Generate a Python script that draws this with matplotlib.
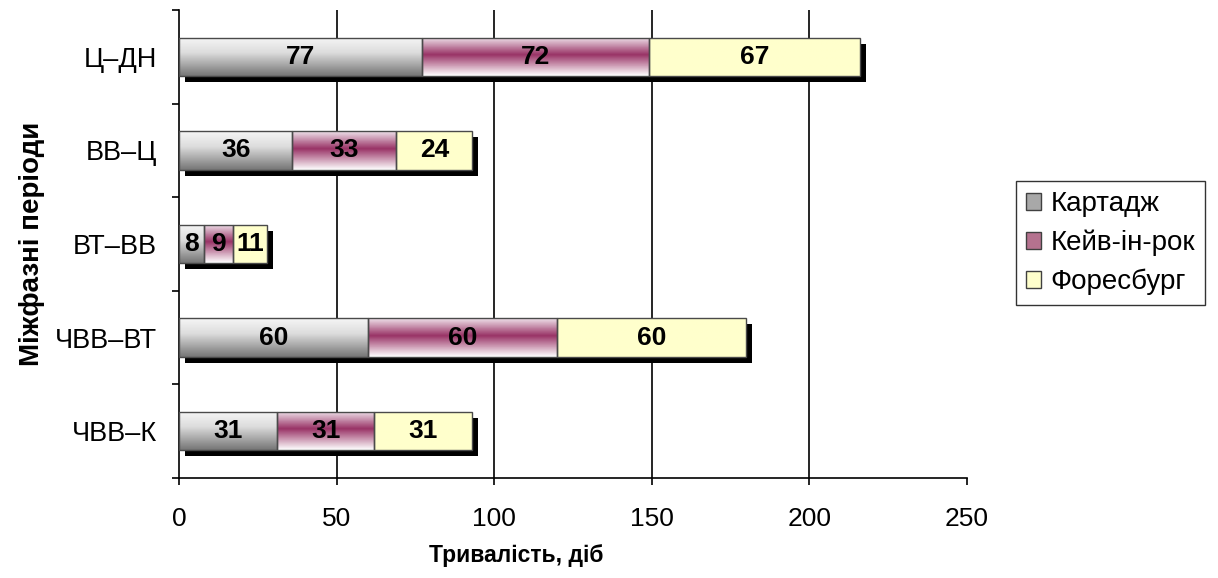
import matplotlib
matplotlib.use("Agg")
from matplotlib import pyplot as plt
from matplotlib import transforms
from matplotlib.colors import LinearSegmentedColormap
from matplotlib.patches import Patch
import numpy as np

plt.rcParams['font.family'] = ['Liberation Sans', 'DejaVu Sans']

# data
periods = ['Ц–ДН', 'ВВ–Ц', 'ВТ–ВВ', 'ЧВВ–ВТ', 'ЧВВ–К']
series = ['Картадж', 'Кейв-ін-рок', 'Форесбург']
kartadzh = [77, 36, 8, 60, 31]
keiv = [72, 33, 9, 60, 31]
foresburg = [67, 24, 11, 60, 31]
xticks = [0, 50, 100, 150, 200, 250]

values = [kartadzh, keiv, foresburg]
totals = np.sum(values, axis=0)

# vertical gradients, top -> bottom
grad_gray = LinearSegmentedColormap.from_list('g', [(0, '#f6f6f6'), (0.4, '#dcdcdc'), (1, '#767676')])
grad_maroon = LinearSegmentedColormap.from_list('m', [(0, '#efe2ea'), (0.45, '#993366'), (1, '#ffffff')])
grad_yellow = LinearSegmentedColormap.from_list('y', ['#ffffcc', '#ffffcc'])
cmaps = [grad_gray, grad_maroon, grad_yellow]
legend_colors = ['#a8a8a8', '#b5728f', '#ffffcc']

fig = plt.figure(figsize=(12.18, 5.78), dpi=100)
ax = fig.add_axes([179/1218, 1-478/578, 788/1218, 468/578])

ypos = np.arange(len(periods))
h = 0.41

# shadow behind whole bar
shadow_tr = transforms.offset_copy(ax.transData, fig=fig, x=6, y=-6, units='dots')
ax.barh(ypos, totals, height=h, color='black', transform=shadow_tr, zorder=2)

grad = np.linspace(0, 1, 64).reshape(-1, 1)
left = np.zeros(len(periods))
for vals, cm in zip(values, cmaps):
    bars = ax.barh(ypos, vals, left=left, height=h, facecolor='none',
                   edgecolor='#4a4a4a', linewidth=1.0, zorder=4)
    for b, v in zip(bars, vals):
        x0, y0 = b.get_x(), b.get_y()
        img = ax.imshow(grad, cmap=cm, aspect='auto', zorder=3,
                        extent=(x0, x0 + b.get_width(), y0 + b.get_height(), y0),
                        origin='upper', interpolation='bilinear')
        img.set_clip_path(b)
        ax.text(x0 + b.get_width()/2, y0 + b.get_height()/2, str(v),
                ha='center', va='center', fontsize=19, fontweight='bold', zorder=5)
    left = left + np.array(vals)

ax.set_xlim(0, 250)
ax.set_ylim(len(periods) - 0.5, -0.5)
ax.set_xticks(xticks)
ax.set_yticks(ypos)
ax.set_yticklabels(periods, fontsize=19.5)
ax.set_yticks(np.arange(len(periods) + 1) - 0.5, minor=True)
ax.tick_params(axis='y', which='major', length=0, pad=16)
ax.tick_params(axis='y', which='minor', length=5, width=1.2, direction='out')
ax.tick_params(axis='x', length=5, width=1.2, direction='out', pad=16, labelsize=19)

ax.grid(axis='x', color='black', linewidth=1.2, zorder=1)
ax.set_axisbelow(True)
ax.xaxis.get_gridlines()[-1].set_visible(False)
ax.xaxis.get_gridlines()[0].set_visible(False)
for s in ['top', 'right']:
    ax.spines[s].set_visible(False)
ax.spines['left'].set_linewidth(1.2)
ax.spines['bottom'].set_linewidth(1.2)

ax.set_xlabel('Тривалість, діб', fontsize=16.5, fontweight='bold')
ax.xaxis.set_label_coords((516-179)/788, -0.14)
ax.set_ylabel('Міжфазні періоди', fontsize=20, fontweight='bold')
ax.yaxis.set_label_coords((45-179)/788, 0.5)

handles = [Patch(facecolor=c, edgecolor='#404040', label=s) for c, s in zip(legend_colors, series)]
fig.legend(handles=handles, loc='center left', bbox_to_anchor=(1016/1218, 1-243/578),
           fontsize=20, frameon=True, fancybox=False, edgecolor='black',
           handlelength=0.55, handleheight=0.55, handletextpad=0.35, labelspacing=0.45,
           borderpad=0.35, borderaxespad=0)

fig.savefig('out.png', dpi=100)
